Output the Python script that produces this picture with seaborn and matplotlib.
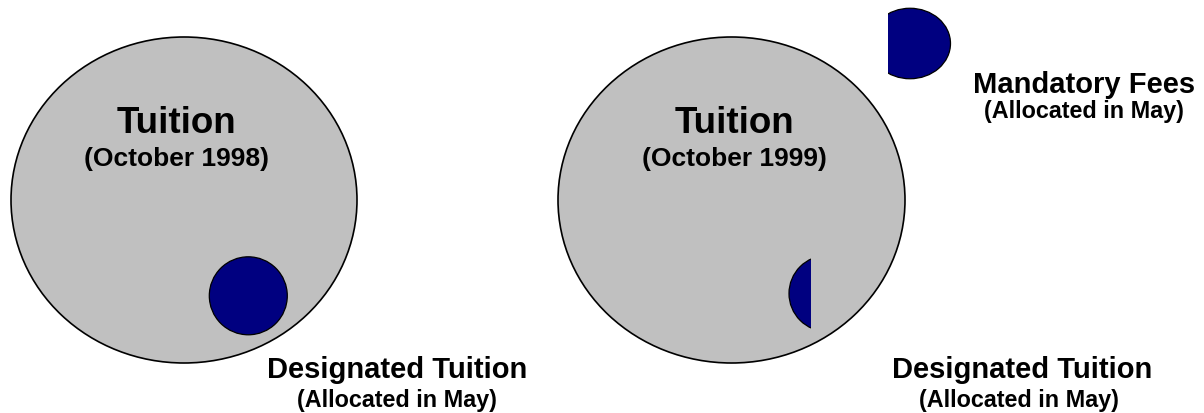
import matplotlib
matplotlib.use("Agg")
from matplotlib import pyplot as plt
from matplotlib.patches import Ellipse, Rectangle
import seaborn as sns

# diagram geometry, in picture pixels (y grows downwards)
PANELS = ['October 1998', 'October 1999']
TUITION_X = [184, 731.5]
TUITION_Y = [200, 200]
TUITION_W = [346, 347]
TUITION_H = [326, 326]

# designated tuition blobs (second one is cut off at x=811)
DESIG_X = [248.3, 827]
DESIG_Y = [295.8, 293.5]
DESIG_W = [78, 76]
DESIG_H = [78, 76]
DESIG_CLIP = [None, (0, 811)]

# mandatory fees blob (cut off at x=888)
FEES_X = [910]
FEES_Y = [43.5]
FEES_W = [81]
FEES_H = [70.5]
FEES_CLIP = [(888, 1204)]

# labels: (text, x, baseline y)
LABELS_BIG = [('Tuition', 176, 133), ('Tuition', 734, 133)]
LABELS_SUB = [('(' + PANELS[0] + ')', 176, 166), ('(' + PANELS[1] + ')', 734, 166)]
LABELS_NAME = [('Designated Tuition', 397, 378), ('Designated Tuition', 1022, 378),
               ('Mandatory Fees', 1084, 93)]
LABELS_NOTE = [('(Allocated in May)', 397, 407), ('(Allocated in May)', 1019, 407),
               ('(Allocated in May)', 1084, 118)]

GREY = '#C0C0C0'
NAVY = '#000080'

sns.set_theme(style='white')
plt.rcParams['font.family'] = ['Liberation Sans', 'DejaVu Sans']
plt.rcParams['text.color'] = 'black'

fig = plt.figure(figsize=(12.04, 4.13), dpi=100)
ax = fig.add_axes([0, 0, 1, 1])
ax.set_xlim(0, 1204)
ax.set_ylim(413, 0)
ax.set_aspect('equal')
ax.axis('off')

for x, y, w, h in zip(TUITION_X, TUITION_Y, TUITION_W, TUITION_H):
    ax.add_patch(Ellipse((x, y), w, h, facecolor=GREY, edgecolor='black',
                         linewidth=1.2, zorder=1))


def add_blob(x, y, w, h, clip):
    e = Ellipse((x, y), w, h, facecolor=NAVY, edgecolor='black', linewidth=0.9, zorder=2)
    ax.add_patch(e)
    if clip is not None:
        rect = Rectangle((clip[0], 0), clip[1] - clip[0], 413, transform=ax.transData)
        e.set_clip_path(rect)


for x, y, w, h, clip in zip(DESIG_X, DESIG_Y, DESIG_W, DESIG_H, DESIG_CLIP):
    add_blob(x, y, w, h, clip)
for x, y, w, h, clip in zip(FEES_X, FEES_Y, FEES_W, FEES_H, FEES_CLIP):
    add_blob(x, y, w, h, clip)

for txt, x, y in LABELS_BIG:
    ax.text(x, y, txt, ha='center', va='baseline', fontsize=26.5, fontweight='bold', zorder=3)
for txt, x, y in LABELS_SUB:
    ax.text(x, y, txt, ha='center', va='baseline', fontsize=19, fontweight='bold', zorder=3)
for txt, x, y in LABELS_NAME:
    ax.text(x, y, txt, ha='center', va='baseline', fontsize=21, fontweight='bold', zorder=3)
for txt, x, y in LABELS_NOTE:
    ax.text(x, y, txt, ha='center', va='baseline', fontsize=16.8, fontweight='bold', zorder=3)

plt.savefig('out.png', dpi=100)
